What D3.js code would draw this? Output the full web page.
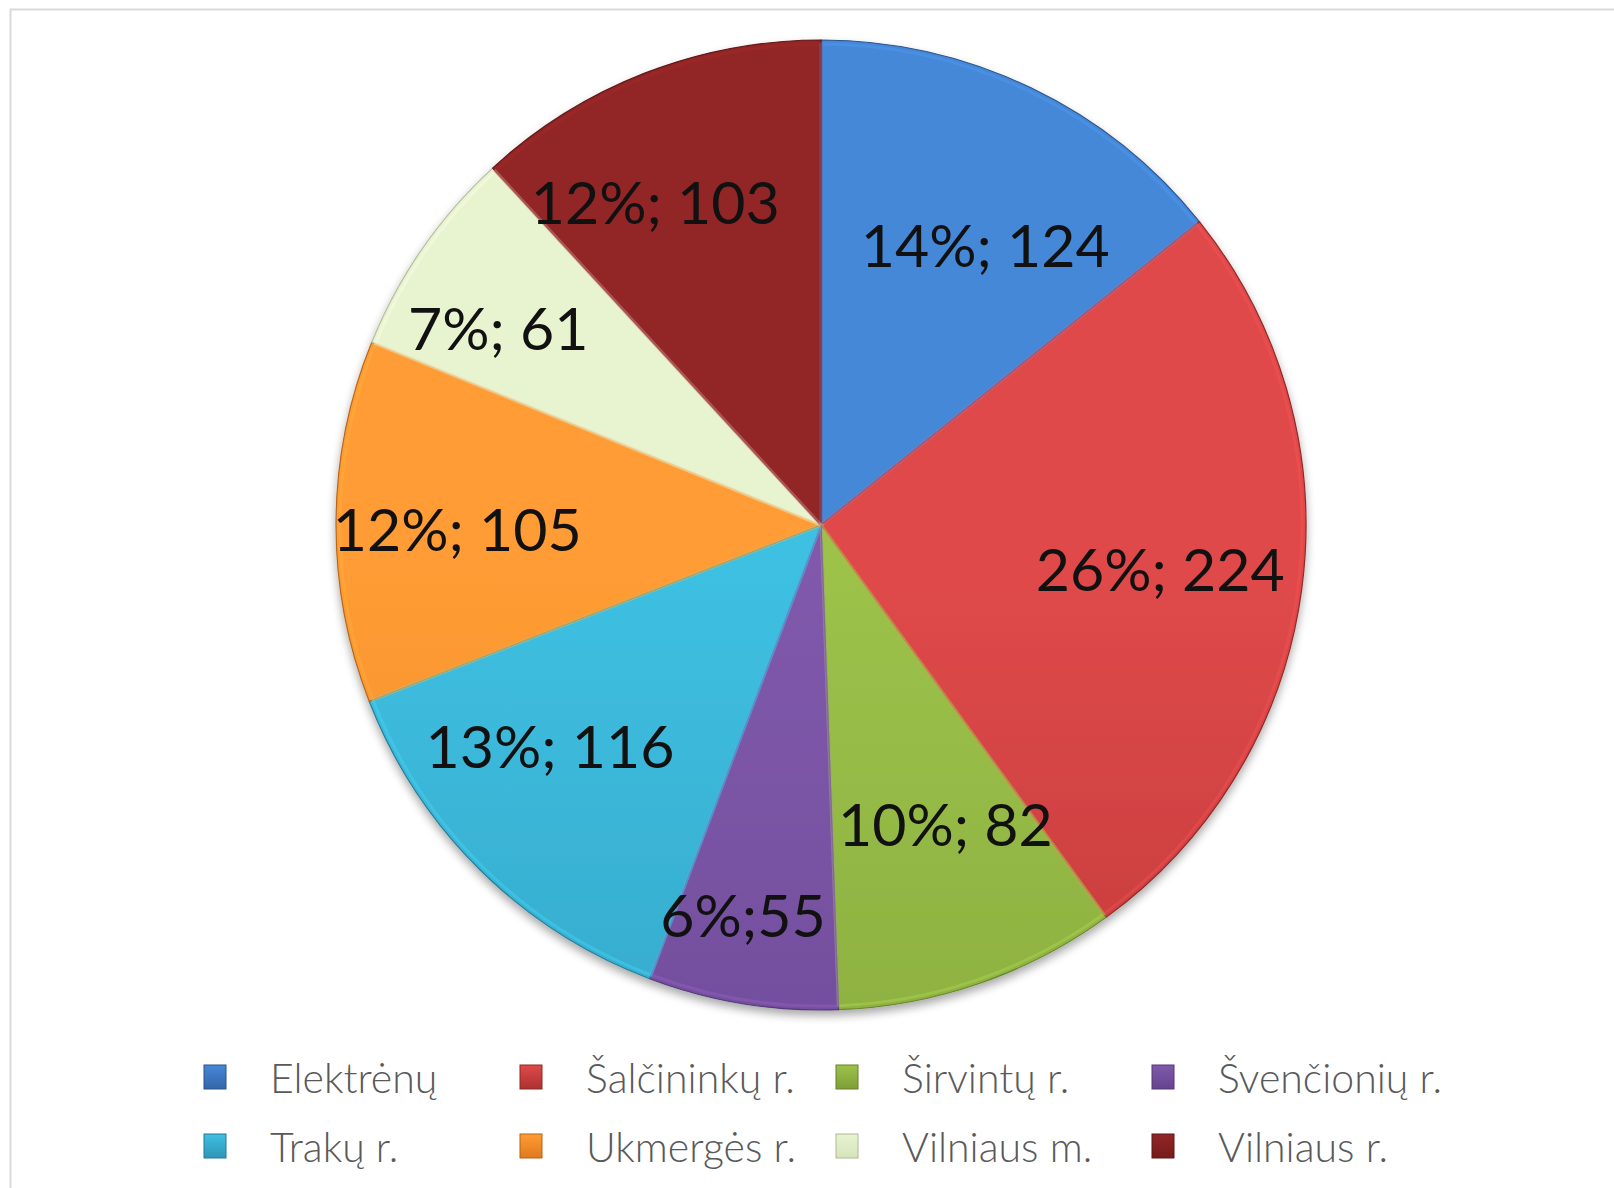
<!DOCTYPE html>
<html>
<head>
<meta charset="utf-8">
<script src="https://cdn.jsdelivr.net/npm/d3@7"></script>
<style>
  html, body { margin: 0; padding: 0; background: #fff; }
  svg { display: block; }
</style>
</head>
<body>
<svg id="chart" width="1614" height="1188"></svg>
<script>
// ---- data ----
const categories = ["Elektrėnų", "Šalčininkų r.", "Širvintų r.", "Švenčionių r.",
                    "Trakų r.", "Ukmergės r.", "Vilniaus m.", "Vilniaus r."];
const values = [124, 224, 82, 55, 116, 105, 61, 103];
const labels = ["14%; 124", "26%; 224", "10%; 82", "6%;55",
                "13%; 116", "12%; 105", "7%; 61", "12%; 103"];

// ---- styles / layout ----
const topColors = ["#4588d8", "#e0494a", "#9cc24a", "#8059ac", "#3ec0e2", "#ff9c34", "#e8f3d0", "#922626"];
const botColors = ["#3566a8", "#ab3230", "#7f9f37", "#66448e", "#2f96b6", "#df7a1e", "#d6e4bb", "#761b1b"];
const labelRadiusFrac = [0.67, 0.705, 0.666, 0.82, 0.72, 0.75, 0.78, 0.75];
const labelAngleShift = [4.7, -0.4, -3.6, 2.0, 6.2, -1.0, -3.3, -5.8];

const svg = d3.select("#chart");
const W = 1614, H = 1188;
const cx = 821, cy = 525, R = 485;

// frame
svg.append("rect").attr("x", 10.5).attr("y", 9.5).attr("width", W).attr("height", H)
  .attr("fill", "#fff").attr("stroke", "#d9d9d9").attr("stroke-width", 2);

const defs = svg.append("defs");
const shadow = defs.append("filter").attr("id", "shadow")
  .attr("x", "-10%").attr("y", "-10%").attr("width", "120%").attr("height", "125%");
shadow.append("feGaussianBlur").attr("in", "SourceAlpha").attr("stdDeviation", 5);
shadow.append("feOffset").attr("dx", 0).attr("dy", 5).attr("result", "b");
shadow.append("feComponentTransfer").append("feFuncA").attr("type", "linear").attr("slope", 0.35);
const merge = shadow.append("feMerge");
merge.append("feMergeNode");
merge.append("feMergeNode").attr("in", "SourceGraphic");

categories.forEach((c, i) => {
  const g = defs.append("linearGradient").attr("id", "grad" + i)
    .attr("gradientUnits", "userSpaceOnUse")
    .attr("x1", cx).attr("y1", cy - R).attr("x2", cx).attr("y2", cy + R);
  g.append("stop").attr("offset", "0%").attr("stop-color", topColors[i]);
  g.append("stop").attr("offset", "100%").attr("stop-color", botColors[i]);
  const lg = defs.append("linearGradient").attr("id", "lg" + i)
    .attr("x1", 0).attr("y1", 0).attr("x2", 0).attr("y2", 1);
  lg.append("stop").attr("offset", "0%").attr("stop-color", topColors[i]);
  lg.append("stop").attr("offset", "100%").attr("stop-color", botColors[i]);
});

const pie = d3.pie().sort(null).value(d => d)(values);
const arc = d3.arc().innerRadius(0).outerRadius(R);

const gPie = svg.append("g").attr("transform", `translate(${cx},${cy})`);
gPie.append("g").attr("filter", "url(#shadow)")
  .selectAll("path").data(pie).join("path")
  .attr("d", arc)
  .attr("fill", (d, i) => `url(#grad${i})`)
  .attr("stroke", (d, i) => d3.color(botColors[i]).darker(0.5))
  .attr("stroke-width", 1.2)
  .attr("stroke-linejoin", "round");

// subtle inner bevel highlight
gPie.append("g").selectAll("path").data(pie).join("path")
  .attr("d", d3.arc().innerRadius(0).outerRadius(R - 4))
  .attr("fill", "none")
  .attr("stroke", (d, i) => d3.color(topColors[i]).brighter(0.4))
  .attr("stroke-opacity", 0.35)
  .attr("stroke-width", 3);

gPie.append("g").selectAll("text").data(pie).join("text")
  .attr("transform", (d, i) => {
    const a = (d.startAngle + d.endAngle) / 2 + labelAngleShift[i] * Math.PI / 180;
    const r = R * labelRadiusFrac[i];
    return `translate(${r * Math.sin(a)},${-r * Math.cos(a)})`;
  })
  .attr("text-anchor", "middle")
  .attr("dominant-baseline", "central")
  .attr("font-family", "Lato, 'Noto Sans', sans-serif")
  .attr("font-weight", 400)
  .attr("font-size", 59)
  .attr("fill", "#111")
  .text((d, i) => labels[i]);

// legend
const legend = svg.append("g");
const colX = d3.scalePoint().domain(d3.range(4)).range([215, 1163]);
const rowY = d3.scalePoint().domain([0, 1]).range([1077, 1146]);
const items = legend.selectAll("g").data(categories).join("g")
  .attr("transform", (d, i) => `translate(${colX(i % 4)},${rowY(Math.floor(i / 4))})`);
items.append("rect")
  .attr("x", -11).attr("y", -12).attr("width", 22).attr("height", 24)
  .attr("fill", (d, i) => `url(#lg${i})`)
  .attr("stroke", (d, i) => d3.color(botColors[i]).darker(0.6)).attr("stroke-width", 1);
items.append("text")
  .attr("x", 55).attr("y", 0)
  .attr("dominant-baseline", "central")
  .attr("font-family", "Lato, 'Noto Sans', sans-serif")
  .attr("font-weight", 300)
  .attr("font-size", 41)
  .attr("fill", "#595959")
  .text(d => d);
</script>
</body>
</html>
